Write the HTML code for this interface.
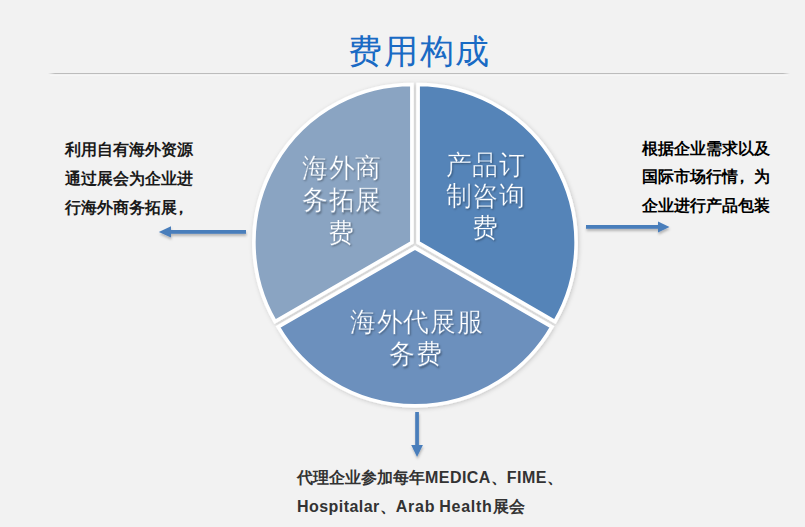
<!DOCTYPE html>
<html>
<head>
<meta charset="utf-8">
<style>
html,body{margin:0;padding:0;}
body{width:805px;height:527px;background:#f2f2f2;position:relative;overflow:hidden;font-family:"Liberation Sans",sans-serif;}
.abs{position:absolute;white-space:nowrap;}
#title{left:348px;top:28.5px;font-size:34px;line-height:44px;color:#196ac4;letter-spacing:1.8px;}
#hr{left:48px;top:73px;width:742px;height:1px;background:linear-gradient(to right,rgba(191,191,191,0) 0,#bcbcbc 7px,#bcbcbc 735px,rgba(191,191,191,0) 742px);}
#hr2{left:50px;top:75px;width:738px;height:1px;background:#f6f6f6;}
.note{font-size:16px;font-weight:bold;line-height:29px;color:#1a1a1a;}
#tl{left:65px;top:134.5px;}
#tr{left:642px;top:134.5px;line-height:28.5px;color:#000;}
#tb{left:297px;top:463px;color:#333;line-height:29px;}
.lbl{font-size:26px;line-height:30.8px;letter-spacing:0.7px;color:#fff;text-align:center;text-shadow:1px 1px 2px rgba(0,0,0,.35);transform:scaleY(1.045);transform-origin:0 0;}
#l1{left:302px;top:152.4px;width:78px;-webkit-text-stroke:0.35px #8aa4c2;}
#l2{left:445.8px;top:148.9px;width:80px;line-height:30.2px;-webkit-text-stroke:0.35px #5584b8;}
#l3{left:350px;top:305.7px;width:132px;-webkit-text-stroke:0.35px #6c90bd;}
.lat{letter-spacing:0.45px;word-spacing:2px;}
.cm{position:relative;left:-4px;}
</style>
</head>
<body>
<div id="title" class="abs">费用构成</div>
<div id="hr" class="abs"></div>
<div id="hr2" class="abs"></div>

<svg class="abs" style="left:0;top:0" width="805" height="527" viewBox="0 0 805 527">
  <defs>
    <filter id="sh" x="-20%" y="-20%" width="140%" height="140%">
      <feGaussianBlur in="SourceAlpha" stdDeviation="2"/><feOffset dx="0.5" dy="1" result="b"/><feFlood flood-color="#000" flood-opacity="0.18"/><feComposite in2="b" operator="in"/><feMerge><feMergeNode/><feMergeNode in="SourceGraphic"/></feMerge>
    </filter>
    <filter id="ash" x="-20%" y="-50%" width="140%" height="200%">
      <feDropShadow dx="0.5" dy="2.2" stdDeviation="1.2" flood-color="#000" flood-opacity="0.25"/>
    </filter>
  </defs>
  <g id="pie" filter="url(#sh)"><path d="M411.88,242.50 L275.05,321.50 A158,158 0 0 1 411.88,84.50 Z" fill="#8aa4c2" stroke="#fff" stroke-width="3.6" stroke-linejoin="miter"/><path d="M415.00,247.90 L551.83,326.90 A158,158 0 0 1 278.17,326.90 Z" fill="#6c90bd" stroke="#fff" stroke-width="3.6" stroke-linejoin="miter"/><path d="M418.12,242.50 L418.12,84.50 A158,158 0 0 1 554.95,321.50 Z" fill="#5584b8" stroke="#fff" stroke-width="3.6" stroke-linejoin="miter"/></g>
  <!-- arrows -->
  <g fill="#4a7ebb" filter="url(#ash)">
    <rect x="170" y="230" width="76" height="3.8"/>
    <polygon points="158.8,231.9 171,226.3 171,237.5"/>
    <rect x="586" y="225" width="72" height="3.8"/>
    <polygon points="669.5,227 658,221.5 658,232.5"/>
    <rect x="415.2" y="412" width="3.7" height="33"/>
    <polygon points="417.05,457 411.2,445 422.9,445"/>
  </g>
</svg>

<div id="l1" class="abs lbl">海外商<br>务拓展<br>费</div>
<div id="l2" class="abs lbl">产品订<br>制咨询<br>费</div>
<div id="l3" class="abs lbl">海外代展服<br>务费</div>

<div id="tl" class="abs note">利用自有海外资源<br>通过展会为企业进<br>行海外商务拓展<span class="cm">，</span></div>
<div id="tr" class="abs note">根据企业需求以及<br>国际市场行情<span class="cm">，</span>为<br>企业进行产品包装</div>
<div id="tb" class="abs note">代理企业参加每年<span class="lat">MEDICA</span>、<span class="lat">FIME</span>、<br><span class="lat">Hospitalar</span>、<span class="lat" style="letter-spacing:0.75px;word-spacing:-1.2px">Arab Health</span>展会</div>
</body>
</html>
